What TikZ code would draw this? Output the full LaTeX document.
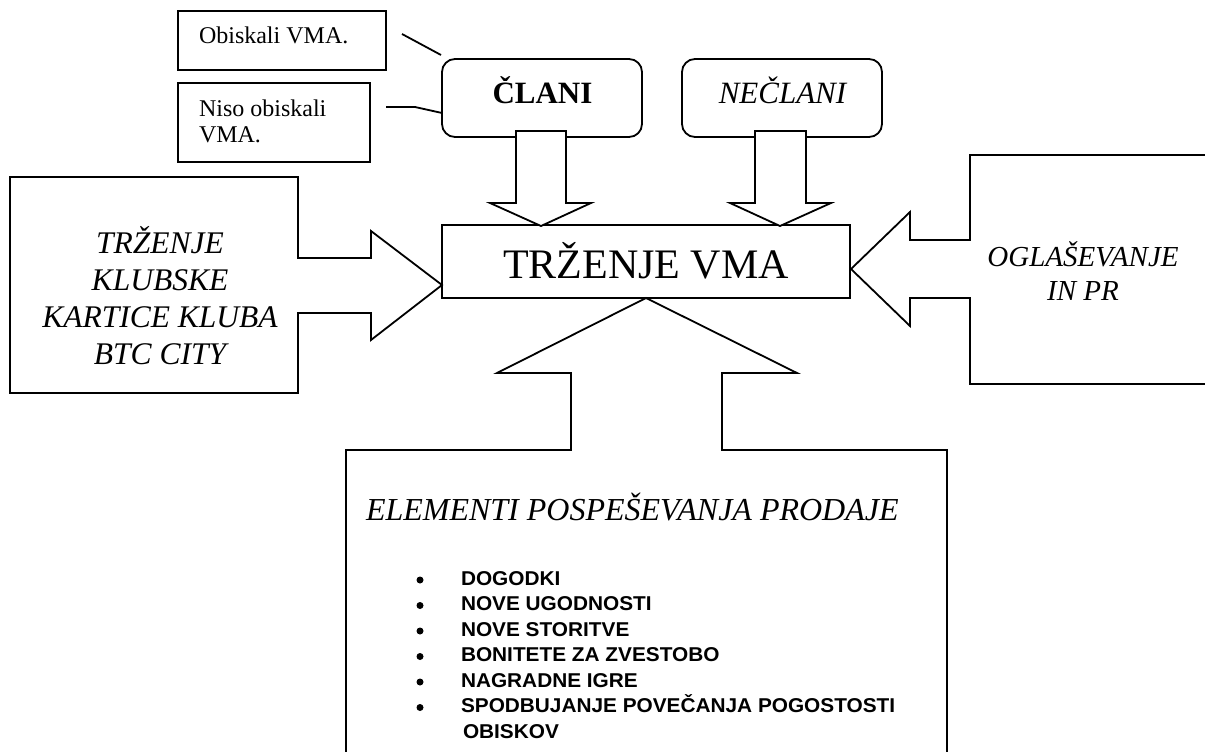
\documentclass[tikz,border=0pt]{standalone}
\usepackage{fontspec}
\setmainfont{Liberation Serif}
\newfontfamily\arialfont{Liberation Sans}[FakeStretch=1.04]
\begin{document}
\begin{tikzpicture}[x=1pt,y=-1pt, line width=1.8pt, line join=miter,
  box/.style={draw, rectangle, inner sep=0pt},
  rbox/.style={draw, rectangle, rounded corners=13pt, inner sep=0pt, minimum width=200pt, minimum height=78pt},
  txt/.style={inner sep=0pt, outer sep=0pt},
  blk/.style={draw, fill=white, line join=miter},
  bul/.style={txt, anchor=base west, font=\arialfont\bfseries\fontsize{20}{25}\selectfont},
  dot/.style={circle, fill=black, inner sep=0pt, minimum size=7pt}]
\useasboundingbox (0,0) rectangle (1205,752);

% small boxes
\node[box, minimum width=208pt, minimum height=59pt] (obisk) at (282,40.5) {};
\node[txt, anchor=base west, font=\fontsize{24}{26}\selectfont] (tobisk) at (199,44) {Obiskali VMA.};
\node[box, minimum width=192pt, minimum height=79pt] (niso) at (274,122.5) {};
\node[txt, anchor=base west, font=\fontsize{24}{26}\selectfont] (tniso1) at (199,116) {Niso obiskali};
\node[txt, anchor=base west, font=\fontsize{24}{26}\selectfont] (tniso2) at (199,142) {VMA.};

% rounded boxes
\node[rbox] (clani) at (542,98) {};
\node[txt, anchor=base, font=\bfseries\fontsize{31}{34}\selectfont] (tclani) at (542.5,103) {ČLANI};
\node[rbox] (neclani) at (782,98) {};
\node[txt, anchor=base, font=\itshape\fontsize{31}{34}\selectfont] (tneclani) at (782.5,103) {NEČLANI};

% connectors from small boxes
\coordinate (o1) at (402,34);
\coordinate (o2) at (441,55);
\draw (o1) -- (o2);
\coordinate (n1) at (386,107);
\coordinate (n2) at (415,107);
\coordinate (n3) at (442,113);
\draw (n1) -- (n2) -- (n3);

% central box
\node[box, minimum width=408pt, minimum height=73pt] (vma) at (646,261.5) {};
\node[txt, anchor=base, font=\fontsize{42}{46}\selectfont] (tvma) at (646,278) {TRŽENJE VMA};

% down arrows
\draw[blk] (516,131) -- (516,203) -- (490,203) -- (541,226) -- (591,203) -- (566,203) -- (566,131) -- cycle;
\draw[blk] (755,131) -- (755,203) -- (730,203) -- (780,226) -- (831,203) -- (806,203) -- (806,131) -- cycle;

% left shape with arrow
\draw[blk] (10,177) -- (298,177) -- (298,258) -- (371,258) -- (371,231) -- (442,285)
  -- (371,340) -- (371,313) -- (298,313) -- (298,393) -- (10,393) -- cycle;
\node[txt, anchor=base, font=\itshape\fontsize{31.5}{34}\selectfont] (tl1) at (160,253) {TRŽENJE};
\node[txt, anchor=base, font=\itshape\fontsize{31.5}{34}\selectfont] (tl2) at (160,290) {KLUBSKE};
\node[txt, anchor=base, font=\itshape\fontsize{31.5}{34}\selectfont] (tl3) at (160,327) {KARTICE KLUBA};
\node[txt, anchor=base, font=\itshape\fontsize{31.5}{34}\selectfont] (tl4) at (160,364) {BTC CITY};

% right shape with arrow
\draw[blk] (1215,155) -- (970,155) -- (970,240) -- (910,240) -- (910,212) -- (851,269)
  -- (910,326) -- (910,298) -- (970,298) -- (970,384) -- (1215,384);
\node[txt, anchor=base, font=\itshape\fontsize{29}{32}\selectfont] (tr1) at (1083,266) {OGLAŠEVANJE};
\node[txt, anchor=base, font=\itshape\fontsize{29}{32}\selectfont] (tr2) at (1083,300) {IN PR};

% bottom shape with arrow
\draw[blk] (346,765) -- (346,450) -- (571,450) -- (571,373) -- (497,373) -- (646,298)
  -- (797,373) -- (722,373) -- (722,450) -- (947,450) -- (947,765);
\node[txt, anchor=base west, font=\itshape\fontsize{32}{35}\selectfont] (tel) at (366,520) {ELEMENTI POSPEŠEVANJA PRODAJE};

% bullet list
\node[dot] (d1) at (420,580) {};
\node[bul] (b1) at (461,585) {DOGODKI};
\node[dot] (d2) at (420,605.5) {};
\node[bul] (b2) at (461,610.5) {NOVE UGODNOSTI};
\node[dot] (d3) at (420,631) {};
\node[bul] (b3) at (461,636) {NOVE STORITVE};
\node[dot] (d4) at (420,656.5) {};
\node[bul] (b4) at (461,661.5) {BONITETE ZA ZVESTOBO};
\node[dot] (d5) at (420,682) {};
\node[bul] (b5) at (461,687) {NAGRADNE IGRE};
\node[dot] (d6) at (420,707.5) {};
\node[bul] (b6) at (461,712.5) {SPODBUJANJE POVEČANJA POGOSTOSTI};
\node[bul] (b7) at (463,738) {OBISKOV};
\end{tikzpicture}
\end{document}
